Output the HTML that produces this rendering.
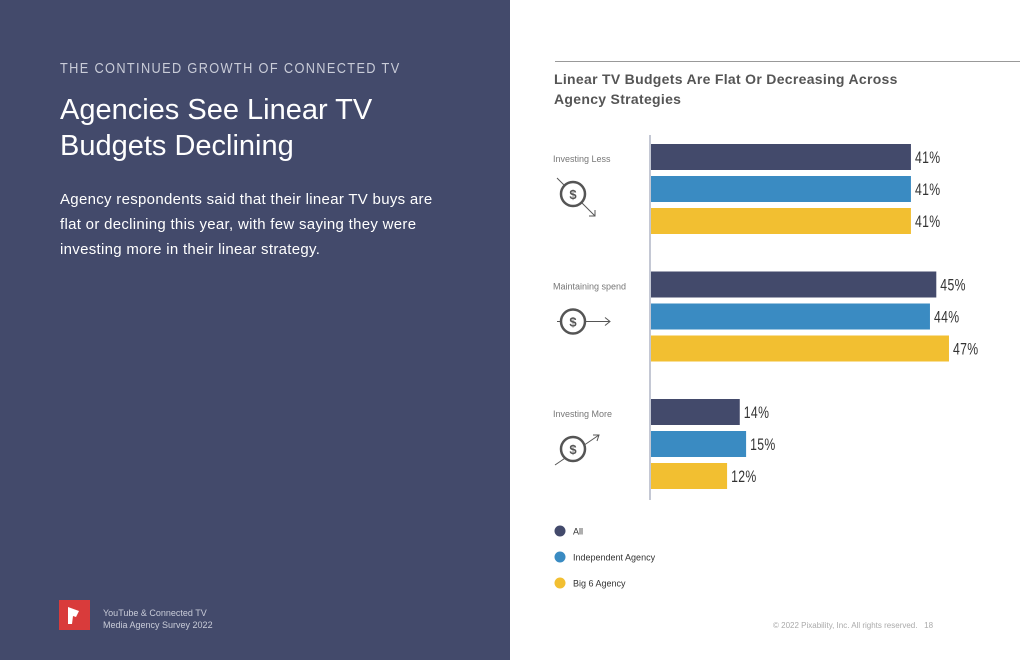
<!DOCTYPE html>
<html><head><meta charset="utf-8"><style>
body{margin:0;width:1020px;height:660px;position:relative;background:#fff;font-family:"Liberation Sans",sans-serif;overflow:hidden}
.abs{position:absolute}
</style></head><body>
<div class="abs" style="left:0;top:0;width:510px;height:660px;background:#434a6b"></div>
<div class="abs" style="left:60px;top:60px;color:#c9ccd8;font-size:15px;letter-spacing:1.6px;transform:scaleX(0.85);transform-origin:left">THE CONTINUED GROWTH OF CONNECTED TV</div>
<div class="abs" style="left:60px;top:92px;color:#fff;font-size:29px;line-height:36px">Agencies See Linear TV<br>Budgets Declining</div>
<div class="abs" style="left:60px;top:187px;color:#fff;font-size:15px;line-height:25px;width:395px;letter-spacing:0.3px">Agency respondents said that their linear TV buys are flat or declining this year, with few saying they were investing more in their linear strategy.</div>
<div class="abs" style="left:59px;top:600px;width:31px;height:30px;background:#d93b3b"><svg width="31" height="30"><path d="M9 7 L20 11 L17 17 L14 16 L13 24 L9 24 Z" fill="#fff"/></svg></div>
<div class="abs" style="left:103px;top:607px;color:#c9ccd8;font-size:9px;line-height:12px">YouTube &amp; Connected TV<br>Media Agency Survey 2022</div>
<div class="abs" style="left:773px;top:621px;color:#aaa;font-size:8px">© 2022 Pixability, Inc. All rights reserved. &nbsp; 18</div>
<div class="abs" style="left:555px;top:61px;width:465px;height:1px;background:#999"></div>
<div class="abs" style="left:554px;top:69px;color:#555;font-size:14px;font-weight:bold;line-height:20px;letter-spacing:0.3px">Linear TV Budgets Are Flat Or Decreasing Across<br>Agency Strategies</div>
<svg class="abs" id="chart" style="left:0;top:0" width="1020" height="660"></svg>
<script>
const categories=["Investing Less","Maintaining spend","Investing More"];
const seriesNames=["All","Independent Agency","Big 6 Agency"];
const allValues=[41,45,14];
const independentValues=[41,44,15];
const big6Values=[41,47,12];
const colors=["#434a6b","#3a8bc2","#f2bf31"];
const svg=document.getElementById('chart');
const NS="http://www.w3.org/2000/svg";
const x0=651,pxPer=6.34;
const xs=v=>x0+v*pxPer;
function mk(t,a){const e=document.createElementNS(NS,t);for(const k in a)e.setAttribute(k,a[k]);svg.appendChild(e);return e;}
const axis=mk('line',{x1:650,y1:135,x2:650,y2:500,stroke:'#8a90a8','stroke-width':1});


const series=[allValues,independentValues,big6Values];
categories.forEach((c,i)=>{
  const gy=144+i*127.5;
  const lbl=mk('text',{x:553,y:gy+18,'font-size':9,fill:'#777','font-family':'Liberation Sans'});
  lbl.textContent=c;
  
  
  const cy=gy+50,cx=573;
  const g=document.createElementNS(NS,'g');svg.appendChild(g);
  
  
  g.innerHTML=(i==0?`<line x1="557" y1="${cy-16}" x2="595" y2="${cy+22}" stroke="#555"/><polyline points="589,${cy+22} 595,${cy+22} 595,${cy+16}" fill="none" stroke="#555"/>`:i==1?`<line x1="557" y1="${cy}" x2="610" y2="${cy}" stroke="#555"/><polyline points="605,${cy-4} 610,${cy} 605,${cy+4}" fill="none" stroke="#555"/>`:`<line x1="555" y1="${cy+16}" x2="599" y2="${cy-14}" stroke="#555"/><polyline points="593,${cy-14} 599,${cy-14} 597,${cy-8}" fill="none" stroke="#555"/>`)+
   `<circle cx="${cx}" cy="${cy}" r="12" fill="#fff" stroke="#555" stroke-width="2.5"/><text x="${cx}" y="${cy+5}" text-anchor="middle" font-size="13" font-weight="bold" fill="#555" font-family="Liberation Sans">$</text>`;
  series.forEach((s,j)=>{
    const y=gy+j*32;
    const r=mk('rect',{x:x0,y:y,width:xs(s[i])-x0,height:26,fill:colors[j]});
    
    
    const t=mk('text',{transform:`translate(${xs(s[i])+4},${y+19}) scale(0.72,1)`,'font-size':17,fill:'#333','font-family':'Liberation Sans','letter-spacing':'0.5'});
    t.textContent=s[i]+'%';
    
    
  });
});
seriesNames.forEach((n,j)=>{
  const y=531+j*26;
  const c=mk('circle',{cx:560,cy:y,r:5.5,fill:colors[j]});
  
  
  const t=mk('text',{x:573,y:y+3.5,'font-size':9,fill:'#333','font-family':'Liberation Sans'});
  t.textContent=n;
  
  
});
</script>
</body></html>
